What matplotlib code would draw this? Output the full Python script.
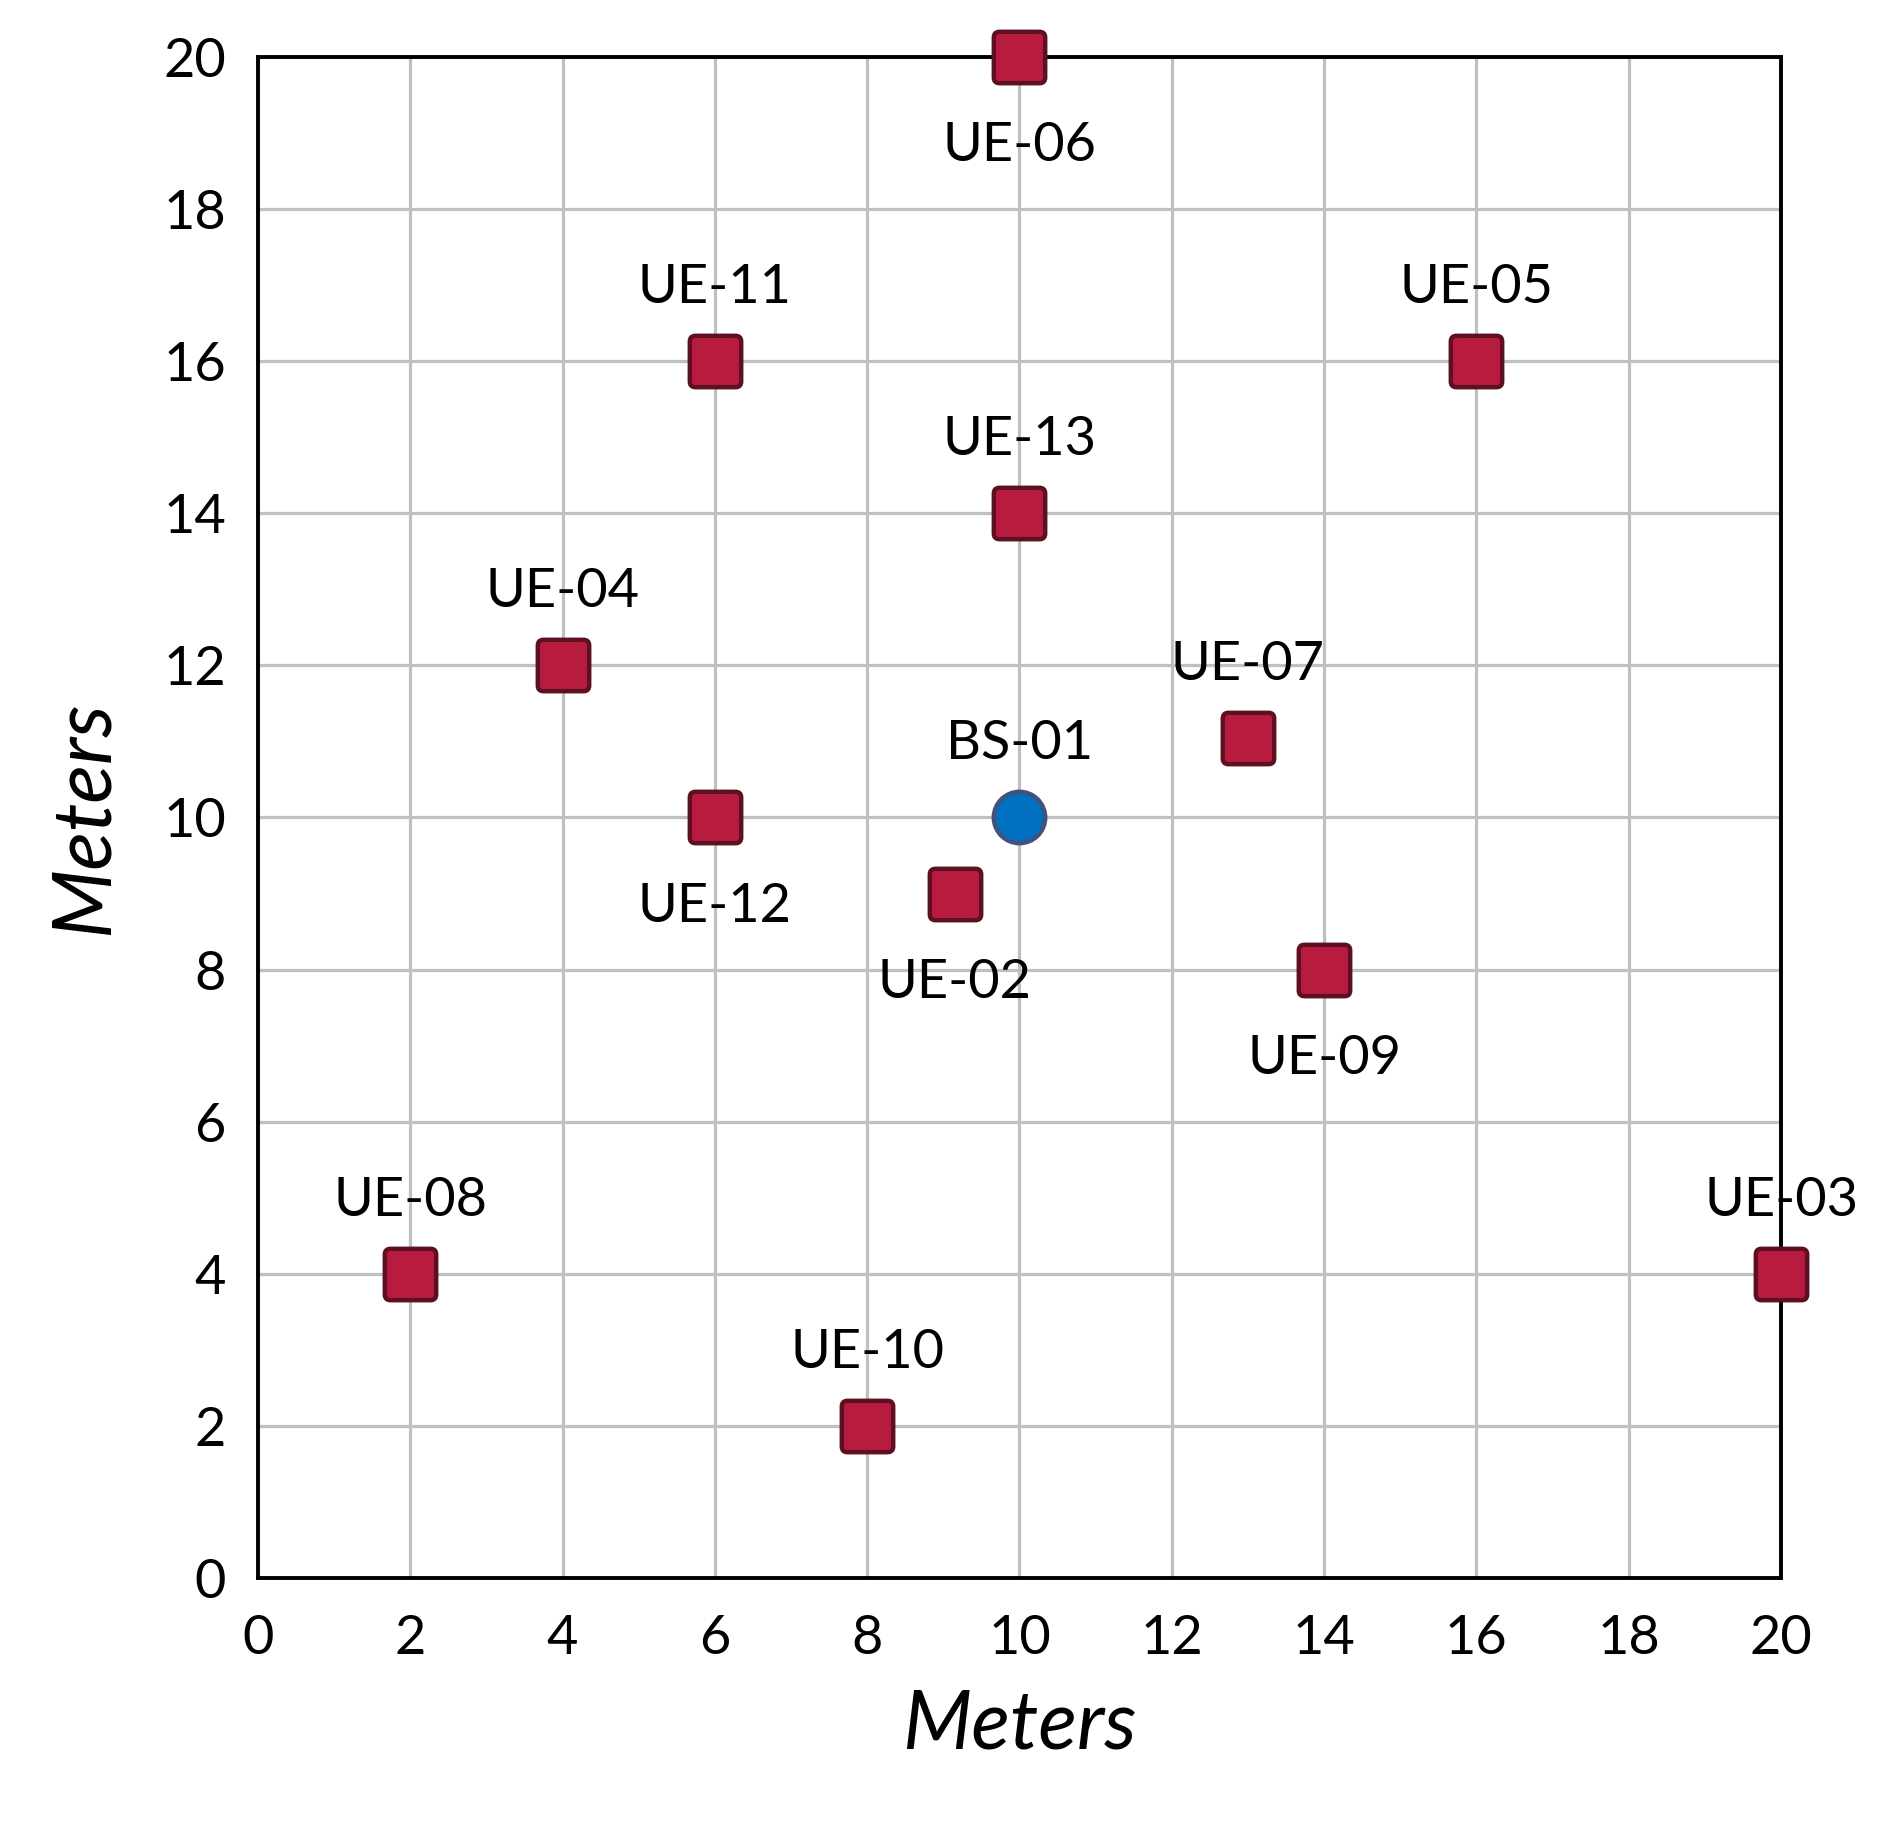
import matplotlib
matplotlib.use("Agg")
import matplotlib.pyplot as plt
from matplotlib.path import Path
import numpy as np

plt.rcParams['font.family'] = ['Lato', 'DejaVu Sans']

# Data
ue_names = ["UE-02", "UE-03", "UE-04", "UE-05", "UE-06", "UE-07", "UE-08",
            "UE-09", "UE-10", "UE-11", "UE-12", "UE-13"]
ue_x = [9.15, 20, 4, 16, 10, 13, 2, 14, 8, 6, 6, 10]
ue_y = [9.0, 4, 12, 16, 20, 11.05, 4, 8, 2, 16, 10, 14]
ue_label_side = ["below", "above", "above", "above", "below", "above", "above",
                 "below", "above", "above", "below", "above"]
bs_names = ["BS-01"]
bs_x = [10]
bs_y = [10]
ticks = [0, 2, 4, 6, 8, 10, 12, 14, 16, 18, 20]

# rounded-square marker path
r = 0.22
verts = [(-1 + r, -1), (1 - r, -1), (1, -1), (1, -1 + r), (1, 1 - r), (1, 1),
         (1 - r, 1), (-1 + r, 1), (-1, 1), (-1, 1 - r), (-1, -1 + r), (-1, -1),
         (-1 + r, -1), (-1 + r, -1)]
codes = [Path.MOVETO, Path.LINETO, Path.CURVE3, Path.CURVE3, Path.LINETO,
         Path.CURVE3, Path.CURVE3, Path.LINETO, Path.CURVE3, Path.CURVE3,
         Path.LINETO, Path.CURVE3, Path.CURVE3, Path.CLOSEPOLY]
rsquare = Path(verts, codes)

fig = plt.figure(figsize=(19.02, 18.28), dpi=100)
ax = fig.add_axes([0.1356, 0.1368, 0.8008, 0.832])

ax.set_xlim(0, 20)
ax.set_ylim(0, 20)
ax.set_xticks(ticks)
ax.set_yticks(ticks)
ax.grid(True, color="#C0C0C0", linewidth=2.3, zorder=0)
ax.set_axisbelow(True)
for s in ax.spines.values():
    s.set_linewidth(2.8)
    s.set_color("black")
    s.set_zorder(2.5)
ax.tick_params(length=0, labelsize=39, pad=23)
ax.tick_params(axis='x', pad=26)

ax.plot(ue_x, ue_y, linestyle='none', marker=rsquare, markersize=37,
        markerfacecolor="#B71C3F", markeredgecolor="#5E0F22", markeredgewidth=3.2,
        clip_on=False, zorder=3)
ax.plot(bs_x, bs_y, linestyle='none', marker='o', markersize=37,
        markerfacecolor="#0070C0", markeredgecolor="#41527D", markeredgewidth=3.2,
        clip_on=False, zorder=3)

for n, x, y, side in zip(ue_names, ue_x, ue_y, ue_label_side):
    dy = 53 if side == "above" else -64
    ax.annotate(n, (x, y), xytext=(0, dy), textcoords='offset points',
                ha='center', va='center', fontsize=39, zorder=4,
                annotation_clip=False)
for n, x, y in zip(bs_names, bs_x, bs_y):
    ax.annotate(n, (x, y), xytext=(0, 53), textcoords='offset points',
                ha='center', va='center', fontsize=39, zorder=4,
                annotation_clip=False)

ax.set_xlabel("Meters", fontsize=58, style='italic', labelpad=18)
ax.set_ylabel("Meters", fontsize=58, style='italic', labelpad=30)

fig.savefig("out.png", dpi=100)
